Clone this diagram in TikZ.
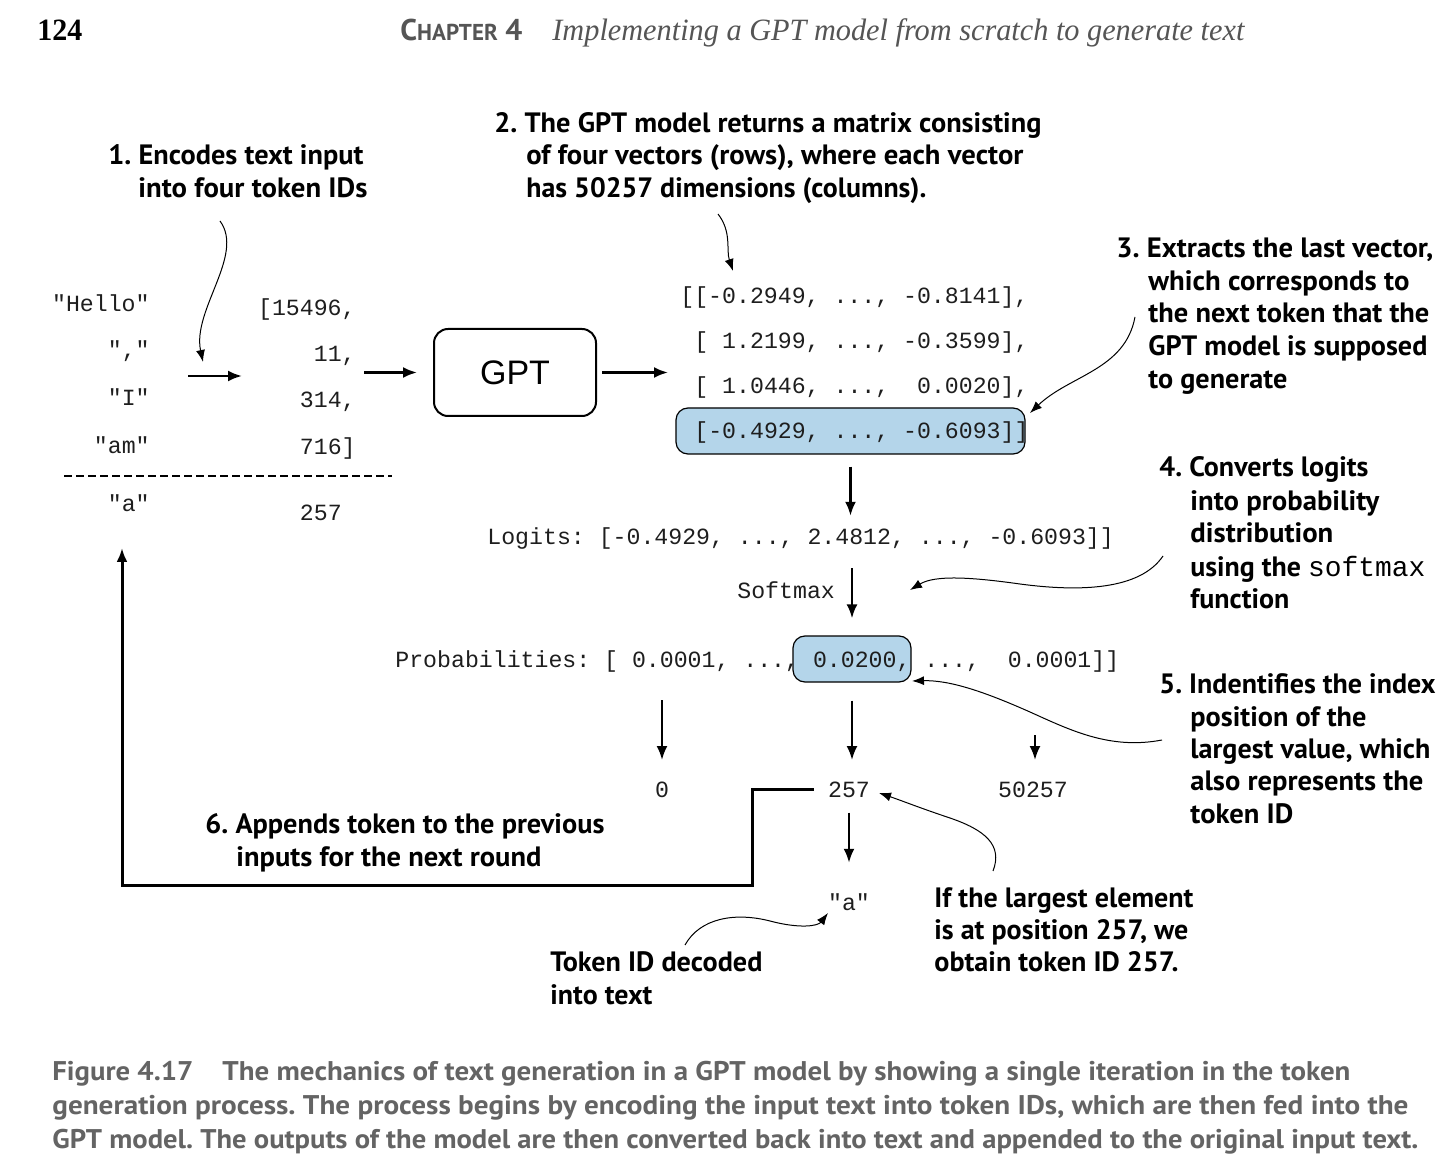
\documentclass[tikz,border=0pt]{standalone}
\usepackage{fontspec}
\usepackage{graphicx}
\usetikzlibrary{arrows.meta}
\setmainfont{Liberation Serif}
\setmonofont{Liberation Mono}
\newfontfamily\annfont{PT Sans}
\newfontfamily\gptf{Liberation Sans}
\newlength\pxu \setlength\pxu{0.5pt}
\newcommand\fw[2]{\resizebox{#1\pxu}{\height}{#2}}
\definecolor{hlblue}{RGB}{180,213,234}
\definecolor{capgray}{RGB}{100,100,100}
\definecolor{hdgray}{RGB}{85,85,85}
\definecolor{monotxt}{RGB}{30,30,30}
\frenchspacing
\begin{document}
\frenchspacing
\begin{tikzpicture}[x=0.5pt,y=-0.5pt,
  ann/.style={inner sep=0pt,anchor=base west,font=\annfont\bfseries\fontsize{14}{16}\selectfont},
  captxt/.style={inner sep=0pt,anchor=base west,text=capgray,font=\annfont\bfseries\fontsize{13.5}{16}\selectfont},
  mono/.style={inner sep=0pt,text=monotxt,font=\ttfamily\fontsize{11.6}{14}\selectfont},
  arr/.style={line width=1.2pt,-{Latex[length=7pt,width=5.5pt]}},
  loopline/.style={line width=1.5pt,-{Latex[length=7pt,width=5.5pt]}},
  ptr/.style={line width=0.5pt,-{Latex[length=6pt,width=4.5pt]}},
  hl/.style={draw,line width=0.6pt,fill=hlblue,rounded corners=6pt,inner sep=0pt}]
\fill[white] (0,0) rectangle (1452,1160);
\useasboundingbox (0,0) rectangle (1452,1160);

% header
\node[inner sep=0pt,anchor=base west,font=\bfseries\fontsize{15.5}{18}\selectfont] (pg) at (37,41) {\fw{45}{124}};
\node[inner sep=0pt,anchor=base west,text=hdgray,font=\annfont\bfseries\fontsize{15}{18}\selectfont] (ch) at (400,41) {\fw{122}{C{\fontsize{11.5}{14}\selectfont HAPTER} 4}};
\node[inner sep=0pt,anchor=base west,text=hdgray,font=\itshape\fontsize{15.5}{18}\selectfont] (ttl) at (552,41) {\fw{692}{Implementing a GPT model from scratch to generate text}};

% annotations
\node[ann] (a1a) at (108,165) {\fw{255}{1. Encodes text input}};
\node[ann] (a1b) at (138,198) {\fw{229}{into four token IDs}};
\node[ann] (a2a) at (494,133) {\fw{547}{2. The GPT model returns a matrix consisting}};
\node[ann] (a2b) at (526,165) {\fw{497}{of four vectors (rows), where each vector}};
\node[ann] (a2c) at (526,198) {\fw{400}{has 50257 dimensions (columns).}};
\node[ann] (a3a) at (1116,258) {\fw{317}{3. Extracts the last vector,}};
\node[ann] (a3b) at (1148,291) {\fw{261}{which corresponds to}};
\node[ann] (a3c) at (1148,323) {\fw{281}{the next token that the}};
\node[ann] (a3d) at (1148,356) {\fw{279}{GPT model is supposed}};
\node[ann] (a3e) at (1148,389) {\fw{139}{to generate}};
\node[ann] (a4a) at (1159,477) {\fw{209}{4. Converts logits}};
\node[ann] (a4b) at (1190,510) {\fw{189}{into probability}};
\node[ann] (a4c) at (1190,543) {\fw{143}{distribution}};
\node[ann] (a4d) at (1190,576) {\fw{235}{using the {\ttfamily\mdseries softmax}}};
\node[ann] (a4e) at (1190,608) {\fw{99}{function}};
\node[ann] (a5a) at (1159,693) {\fw{276}{5. Indentifies the index}};
\node[ann] (a5b) at (1190,726) {\fw{176}{position of the}};
\node[ann] (a5c) at (1190,758) {\fw{240}{largest value, which}};
\node[ann] (a5d) at (1190,791) {\fw{233}{also represents the}};
\node[ann] (a5e) at (1190,823) {\fw{103}{token ID}};
\node[ann] (a6a) at (205,833) {\fw{399}{6. Appends token to the previous}};
\node[ann] (a6b) at (236,866) {\fw{305}{inputs for the next round}};
\node[ann] (t1) at (550,971) {\fw{212}{Token ID decoded}};
\node[ann] (t2) at (550,1004) {\fw{102}{into text}};
\node[ann] (i1) at (934,907) {\fw{259}{If the largest element}};
\node[ann] (i2) at (934,939) {\fw{254}{is at position 257, we}};
\node[ann] (i3) at (934,971) {\fw{244}{obtain token ID 257.}};

% input tokens and ids
\node[mono,anchor=base east] (tHello) at (150,312) {"Hello"};
\node[mono,anchor=base east] (tComma) at (150,358) {","};
\node[mono,anchor=base east] (tI) at (150,406) {"I"};
\node[mono,anchor=base east] (tAm) at (150,454) {"am"};
\node[mono,anchor=base east] (tA) at (150,512) {"a"};
\node[mono,anchor=base east] (id1) at (356,316) {[15496,};
\node[mono,anchor=base east] (id2) at (356,362) {11,};
\node[mono,anchor=base east] (id3) at (356,408) {314,};
\node[mono,anchor=base east] (id4) at (356,455) {716]};
\node[mono,anchor=base east] (id5) at (356,521) {257\phantom{0}};
\draw[line width=0.7pt,dash pattern=on 4pt off 2pt] (64,476) -- (392,476);
\coordinate (inA) at (188,376);
\coordinate (inB) at (242,376);
\draw[arr] (inA) -- (inB);

% GPT
\node[draw,line width=1pt,rounded corners=7pt,minimum width=81pt,minimum height=43.5pt,inner sep=0pt,font=\gptf\fontsize{17}{20}\selectfont] (gpt) at (515,372.5) {GPT};
\draw[arr,shorten >=8pt] ([xshift=-34.5pt]gpt.west) -- (gpt.west);
\draw[arr,shorten <=2.5pt] (gpt.east) -- ++(71,0);

% matrix
\node[hl,minimum width=174.5pt,minimum height=23pt] (hl1) at (850.5,431) {};
\node[mono,anchor=base west] (r1) at (680,304) {[[-0.2949,~...,~-0.8141],};
\node[mono,anchor=base west] (r2) at (694,349) {[~1.2199,~...,~-0.3599],};
\node[mono,anchor=base west] (r3) at (694,394) {[~1.0446,~...,~~0.0020],};
\node[mono,anchor=base west] (r4) at (694,439) {[-0.4929,~...,~-0.6093]]};

% logits & probabilities
\node[mono,anchor=base west] (logits) at (487,545) {Logits:~[-0.4929,~...,~2.4812,~...,~-0.6093]]};
\node[mono,anchor=base west] (smx) at (737,599) {Softmax};
\node[hl,minimum width=59pt,minimum height=23pt] (hl2) at (852,659) {};
\node[mono,anchor=base west] (prob) at (395,668) {Probabilities:~[~0.0001,~...,~0.0200,~...,~~0.0001]]};
\draw[arr,shorten <=6pt,shorten >=6pt] (hl1.south) -- (hl1.south |- logits.north);
\draw[arr,shorten <=9pt,shorten >=8.5pt] (hl2.north |- logits.south) -- (hl2.north);

% indices
\node[mono,anchor=base] (n0) at (662,797) {0};
\node[mono,anchor=base] (n257) at (849,797) {257};
\node[mono,anchor=base] (n50257) at (1033,797) {50257};
\node[mono,anchor=base] (na) at (849,910) {"a"};
\draw[arr,shorten >=10.5pt] (n0.north |- 0,700) -- (n0.north);
\draw[arr,shorten <=9pt,shorten >=10.5pt] (hl2.south) -- (hl2.south |- n257.north);
\draw[arr,shorten >=10.5pt] (1035,735) -- (1035,0 |- n50257.north);
\draw[arr,shorten <=7.5pt,shorten >=15pt] (n257.south) -- (na.north);
\draw[loopline] ([xshift=-7pt]n257.west) -| (752,885) -| (122,548);

% annotation pointers
\draw[ptr] (220,221) .. controls (245,255) and (192,310) .. (203,362);
\draw[ptr] (718,214) .. controls (732,232) and (726,250) .. (733,271);
\draw[ptr] (1135,317) .. controls (1125,370) and (1070,375) .. (1030,413);
\draw[ptr] (1163,556) .. controls (1140,590) and (1080,592) .. (1020,584) .. controls (970,577) and (935,575) .. (910,590);
\draw[ptr] (1162,740) .. controls (1110,750) and (1070,730) .. (1030,712) .. controls (985,692) and (950,680) .. (912,681);
\draw[ptr] (993,871) .. controls (1003,845) and (985,830) .. (950,818) .. controls (920,808) and (900,800) .. (879,793);
\draw[ptr] (685,945) .. controls (700,918) and (735,912) .. (770,921) .. controls (800,929) and (818,926) .. (828,913);

% caption
\node[captxt] (cf) at (52,1080) {\fw{141}{Figure 4.17}};
\node[captxt] (c1) at (222,1080) {\fw{1128}{The mechanics of text generation in a GPT model by showing a single iteration in the token}};
\node[captxt] (c2) at (52,1114) {\fw{1356}{generation process. The process begins by encoding the input text into token IDs, which are then fed into the}};
\node[captxt] (c3) at (52,1148) {\fw{1366}{GPT model. The outputs of the model are then converted back into text and appended to the original input text.}};
\end{tikzpicture}
\end{document}
